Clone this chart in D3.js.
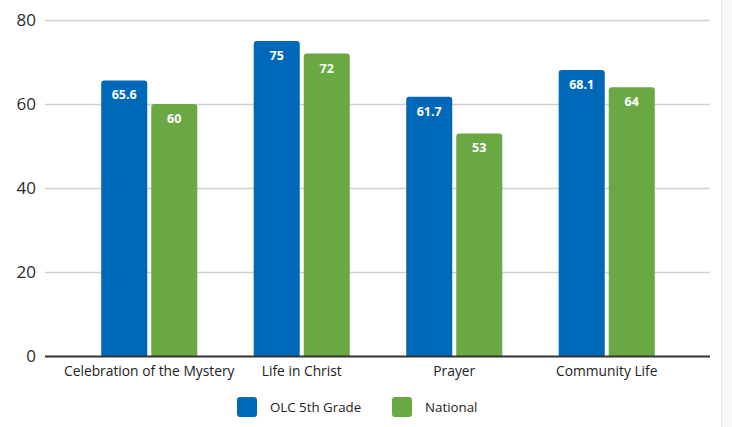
<!DOCTYPE html>
<html><head><meta charset="utf-8">
<script src="https://cdn.jsdelivr.net/npm/d3@7"></script>
<style>body{margin:0;background:#fff;} svg{display:block;}</style>
</head><body>
<svg id="c" width="732" height="427"></svg>
<script>
const categories = ["Celebration of the Mystery", "Life in Christ", "Prayer", "Community Life"];
const seriesNames = ["OLC 5th Grade", "National"];
const olcValues = [65.6, 75, 61.7, 68.1];
const nationalValues = [60, 72, 53, 64];
const yTicks = [0, 20, 40, 60, 80];
const colors = ["#0068b9", "#6aa844"];

const svg = d3.select("#c");
const W = 732, H = 427;
svg.append("rect").attr("width", W).attr("height", H).attr("fill", "#fff");
svg.append("rect").attr("x", 721).attr("y", 0).attr("width", 11).attr("height", H).attr("fill", "#f7f8f8");
svg.append("line").attr("x1", 721.5).attr("x2", 721.5).attr("y1", 0).attr("y2", H).attr("stroke", "#e6e8e8");

const gridL = 45, gridR = 710;
const y = d3.scaleLinear().domain([0, 80]).range([356, 20]);
const x0 = d3.scaleBand().domain(categories).range([73, 683]).paddingInner(0.37).paddingOuter(0.185);
const x1 = d3.scaleBand().domain(seriesNames).range([0, x0.bandwidth()]).paddingInner(0.08);

const grid = svg.append("g");
grid.selectAll("line").data(yTicks.filter(d => d > 0)).join("line")
  .attr("x1", gridL).attr("x2", gridR)
  .attr("y1", d => y(d) + 0.5).attr("y2", d => y(d) + 0.5)
  .attr("stroke", "#cfcfcf").attr("stroke-width", 1.5);

const yAxis = d3.axisLeft(y).tickValues(yTicks).tickSize(0).tickPadding(0);
const ya = svg.append("g").attr("transform", "translate(36,0)").call(yAxis);
ya.select(".domain").remove();
ya.selectAll("text").attr("font-family", "'Open Sans', sans-serif").attr("font-size", 17).attr("fill", "#2b2b2b");

const series = [olcValues, nationalValues];
const data = categories.map((c, i) => ({ cat: c, vals: seriesNames.map((s, j) => ({ s, j, v: series[j][i] })) }));

function topRoundedRect(x, yTop, w, h, r) {
  return `M${x},${yTop + h}V${yTop + r}Q${x},${yTop} ${x + r},${yTop}H${x + w - r}Q${x + w},${yTop} ${x + w},${yTop + r}V${yTop + h}Z`;
}

const groups = svg.append("g").selectAll("g").data(data).join("g")
  .attr("transform", d => `translate(${x0(d.cat)},0)`);
groups.selectAll("path").data(d => d.vals).join("path")
  .attr("d", d => topRoundedRect(x1(d.s), y(d.v), x1.bandwidth(), y(0) - y(d.v), 3))
  .attr("fill", d => colors[d.j]);
groups.selectAll("text").data(d => d.vals).join("text")
  .attr("x", d => x1(d.s) + x1.bandwidth() / 2)
  .attr("y", d => y(d.v) + 19)
  .attr("text-anchor", "middle")
  .attr("font-family", "'Open Sans', sans-serif").attr("font-weight", "bold")
  .attr("font-size", 12.5).attr("fill", "#fff")
  .text(d => d.v);

svg.append("line").attr("x1", gridL).attr("x2", gridR).attr("y1", y(0) + 0.5).attr("y2", y(0) + 0.5)
  .attr("stroke", "#333").attr("stroke-width", 1.8);

const xAxis = d3.axisBottom(x0).tickSize(0).tickPadding(0);
const xa = svg.append("g").attr("transform", `translate(0,${y(0) + 20})`).call(xAxis);
xa.select(".domain").remove();
xa.selectAll("text").attr("dy", 0).attr("font-family", "'Open Sans', sans-serif").attr("font-size", 13.8).attr("fill", "#222");

const legendX = [237, 392];
const lg = svg.append("g").selectAll("g").data(seriesNames).join("g")
  .attr("transform", (d, i) => `translate(${legendX[i]},397)`);
lg.append("rect").attr("width", 20).attr("height", 20).attr("rx", 3).attr("fill", (d, i) => colors[i]);
lg.append("text").attr("x", 33).attr("y", 15)
  .attr("font-family", "'Open Sans', sans-serif").attr("font-size", 13.3).attr("fill", "#222")
  .text(d => d);
</script>
</body></html>
